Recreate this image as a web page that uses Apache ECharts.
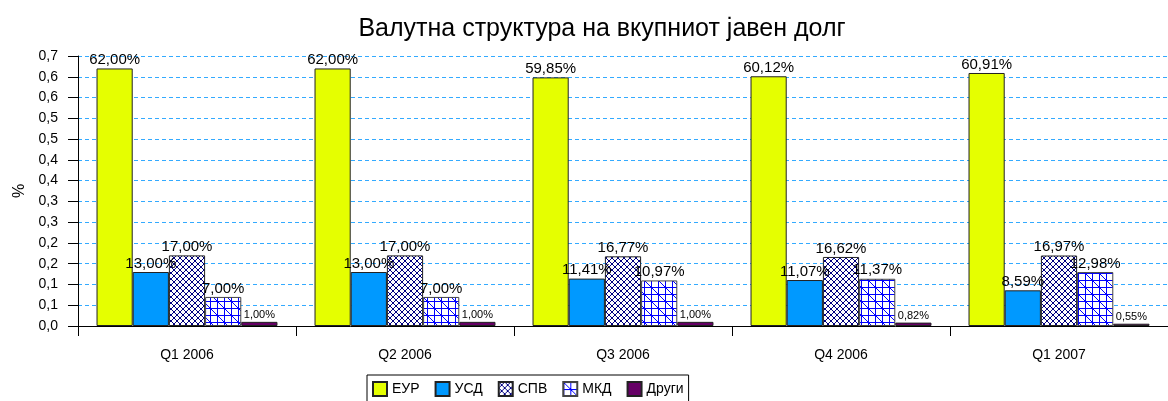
<!DOCTYPE html>
<html>
<head>
<meta charset="utf-8">
<script src="https://cdn.jsdelivr.net/npm/echarts@6/dist/echarts.min.js"></script>
<style>
  html, body { margin: 0; padding: 0; background: #fff; }
  #chart { width: 1168px; height: 401px; }
</style>
</head>
<body>
<div id="chart"></div>
<script>
const categories = ['Q1 2006', 'Q2 2006', 'Q3 2006', 'Q4 2006', 'Q1 2007'];
const seriesNames = ['ЕУР', 'УСД', 'СПВ', 'МКД', 'Други'];
const eur = [0.62, 0.62, 0.5985, 0.6012, 0.6091];
const usd = [0.13, 0.13, 0.1141, 0.1107, 0.0859];
const spv = [0.17, 0.17, 0.1677, 0.1662, 0.1697];
const mkd = [0.07, 0.07, 0.1097, 0.1137, 0.1298];
const other = [0.01, 0.01, 0.01, 0.0082, 0.0055];
// the original axis rounds its 0,05 steps to one decimal
const yTickLabels = ['0,0', '0,1', '0,1', '0,2', '0,2', '0,3', '0,3', '0,4', '0,4', '0,5', '0,5', '0,6', '0,6', '0,7'];

const FONT = 'Liberation Sans, Arial, sans-serif';

function makePattern(size, draw) {
  const c = document.createElement('canvas');
  c.width = size; c.height = size;
  const ctx = c.getContext('2d');
  ctx.fillStyle = '#fff';
  ctx.fillRect(0, 0, size, size);
  draw(ctx, size);
  return { image: c, repeat: 'repeat' };
}

// diamond cross hatch (СПВ)
const crossHatch = makePattern(6, function (ctx, s) {
  ctx.strokeStyle = '#000080';
  ctx.lineWidth = 1;
  ctx.beginPath();
  ctx.moveTo(0, 0); ctx.lineTo(s, s);
  ctx.moveTo(s, 0); ctx.lineTo(0, s);
  ctx.stroke();
});

// grid with diagonal (МКД)
const gridDiag = makePattern(14, function (ctx, s) {
  ctx.strokeStyle = '#0000ff';
  ctx.lineWidth = 1;
  ctx.beginPath();
  ctx.moveTo(0.5, 0); ctx.lineTo(0.5, s);
  ctx.moveTo(7.5, 0); ctx.lineTo(7.5, s);
  ctx.moveTo(0, 0.5); ctx.lineTo(s, 0.5);
  ctx.moveTo(0, 7.5); ctx.lineTo(s, 7.5);
  ctx.moveTo(0, 0); ctx.lineTo(s, s);
  ctx.stroke();
});

function pct(p) {
  return (p.value * 100).toFixed(2).replace('.', ',') + '%';
}

function barSeries(name, data, fill, border, labelSize) {
  return {
    name: name,
    type: 'bar',
    data: data,
    barGap: '0%',
    barCategoryGap: '17%',
    itemStyle: { color: fill, borderColor: border, borderWidth: 1 },
    label: {
      show: true,
      position: 'top',
      distance: 1,
      color: '#000',
      fontFamily: FONT,
      fontSize: labelSize,
      formatter: pct
    }
  };
}

const chart = echarts.init(document.getElementById('chart'), null, { renderer: 'canvas' });

chart.setOption({
  backgroundColor: '#fff',
  animation: false,
  title: {
    text: 'Валутна структура на вкупниот јавен долг',
    left: 597,
    textAlign: 'center',
    top: 12,
    textStyle: { fontFamily: FONT, fontSize: 25, fontWeight: 'normal', color: '#000' }
  },
  legend: {
    data: seriesNames,
    left: 367,
    top: 375,
    icon: 'rect',
    itemWidth: 14,
    itemHeight: 14,
    itemGap: 15,
    padding: [6, 5, 6, 5],
    borderColor: '#000',
    borderWidth: 1,
    textStyle: { fontFamily: FONT, fontSize: 14, color: '#000' }
  },
  grid: { left: 78, top: 56, width: 1100, height: 270, containLabel: false },
  xAxis: {
    type: 'category',
    data: categories,
    axisLine: { lineStyle: { color: '#000', width: 1 } },
    axisTick: { show: true, length: 10, lineStyle: { color: '#000' } },
    axisLabel: { margin: 22, color: '#000', fontFamily: FONT, fontSize: 14 }
  },
  yAxis: {
    type: 'value',
    min: 0,
    max: 0.65,
    interval: 0.05,
    name: '%',
    nameLocation: 'middle',
    nameRotate: 90,
    nameGap: 50,
    nameTextStyle: { fontFamily: FONT, fontSize: 16, color: '#000' },
    axisLine: { show: true, lineStyle: { color: '#000', width: 1 } },
    axisTick: { show: true, length: 10, lineStyle: { color: '#000' } },
    axisLabel: {
      margin: 20,
      color: '#000',
      fontFamily: FONT,
      fontSize: 14,
      formatter: function (v) { return yTickLabels[Math.round(v / 0.05)]; }
    },
    splitLine: { show: true, lineStyle: { color: '#33aaff', type: [4, 3], width: 1 } }
  },
  series: [
    barSeries('ЕУР', eur, '#e5ff00', '#222', 15),
    barSeries('УСД', usd, '#0099ff', '#222', 15),
    barSeries('СПВ', spv, crossHatch, '#222', 15),
    barSeries('МКД', mkd, gridDiag, '#444', 15),
    barSeries('Други', other, '#660066', '#222', 11)
  ]
});
</script>
</body>
</html>
